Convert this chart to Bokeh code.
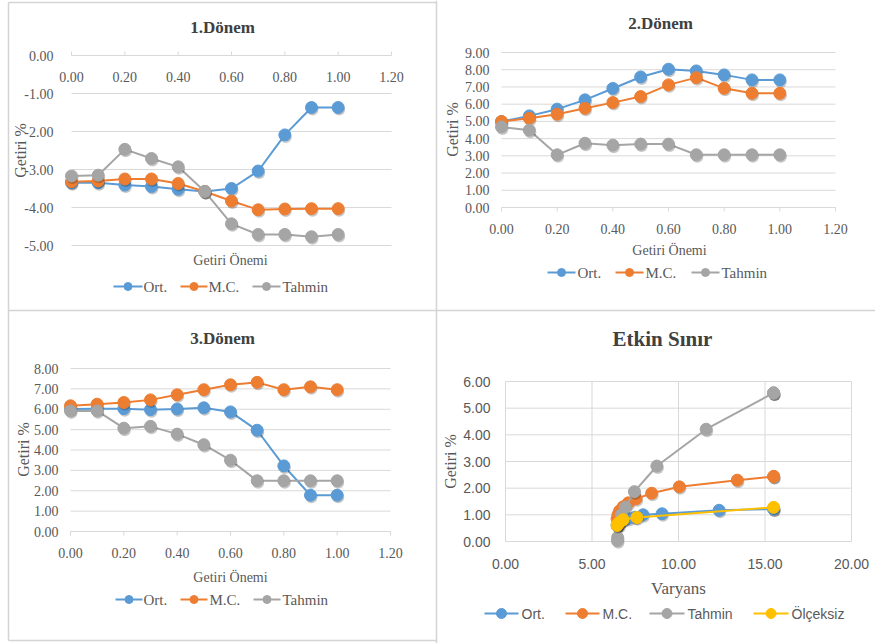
import math
from bokeh.plotting import figure
from bokeh.models import Range1d
from bokeh.core.properties import value
from bokeh.embed import file_html
from bokeh.resources import INLINE

# ---------------- data ----------------
getiri_onemi = [0.0, 0.1, 0.2, 0.3, 0.4, 0.5, 0.6, 0.7, 0.8, 0.9, 1.0]
x_ticks = [0.0, 0.2, 0.4, 0.6, 0.8, 1.0, 1.2]

d1_ort = [-3.35, -3.35, -3.41, -3.45, -3.52, -3.58, -3.50, -3.04, -2.09, -1.37, -1.37]
d1_mc = [-3.32, -3.30, -3.25, -3.25, -3.37, -3.58, -3.83, -4.06, -4.04, -4.03, -4.03]
d1_tahmin = [-3.17, -3.15, -2.47, -2.71, -2.93, -3.58, -4.43, -4.71, -4.71, -4.77, -4.71]
d1_yticks = [0.0, -1.0, -2.0, -3.0, -4.0, -5.0]

d2_ort = [4.99, 5.32, 5.71, 6.25, 6.91, 7.58, 8.03, 7.93, 7.70, 7.41, 7.41]
d2_mc = [4.99, 5.18, 5.42, 5.76, 6.09, 6.44, 7.12, 7.54, 6.92, 6.63, 6.63]
d2_tahmin = [4.68, 4.49, 3.06, 3.73, 3.62, 3.68, 3.68, 3.06, 3.06, 3.06, 3.06]
d2_yticks = [0, 1, 2, 3, 4, 5, 6, 7, 8, 9]

d3_ort = [6.01, 6.03, 6.03, 5.98, 6.01, 6.07, 5.87, 4.97, 3.22, 1.78, 1.78]
d3_mc = [6.17, 6.25, 6.33, 6.46, 6.71, 6.96, 7.20, 7.32, 6.96, 7.10, 6.96]
d3_tahmin = [5.92, 5.92, 5.07, 5.16, 4.78, 4.26, 3.50, 2.49, 2.49, 2.49, 2.49]
d3_yticks = [0, 1, 2, 3, 4, 5, 6, 7, 8]

ek_ort_var = [6.45, 6.47, 6.55, 6.75, 7.10, 7.50, 7.95, 9.05, 12.35, 15.50, 15.50]
ek_ort_ret = [0.60, 0.62, 0.70, 0.80, 0.86, 0.91, 1.00, 1.04, 1.17, 1.22, 1.22]
ek_mc_var = [6.45, 6.50, 6.60, 6.80, 7.10, 7.55, 8.45, 10.05, 13.40, 15.50, 15.50]
ek_mc_ret = [0.85, 1.00, 1.15, 1.30, 1.45, 1.60, 1.81, 2.05, 2.30, 2.44, 2.44]
ek_tahmin_var = [6.47, 6.48, 6.55, 6.70, 6.93, 7.45, 8.75, 11.60, 15.50, 15.50, 15.50]
ek_tahmin_ret = [0.03, 0.15, 0.60, 1.00, 1.28, 1.87, 2.83, 4.21, 5.57, 5.57, 5.57]
ek_olc_var = [6.45, 6.46, 6.50, 6.60, 6.80, 7.60, 15.50]
ek_olc_ret = [0.60, 0.63, 0.66, 0.72, 0.82, 0.90, 1.28]
ek_xticks = [0, 5, 10, 15, 20]
ek_yticks = [0, 1, 2, 3, 4, 5, 6]

series_names = ["Ort.", "M.C.", "Tahmin", "Ölçeksiz"]
titles = ["1.Dönem", "2.Dönem", "3.Dönem", "Etkin Sınır"]
x_titles = ["Getiri Önemi", "Getiri Önemi", "Getiri Önemi", "Varyans"]
y_title = "Getiri %"

# ---------------- style / layout (page pixels) ----------------
W, H = 875, 643
SERIF = "Liberation Serif"
SANS = "Liberation Sans"
BLUE, ORANGE, GRAY, YELLOW = "#5B9BD5", "#ED7D31", "#A5A5A5", "#FFC000"
COLORS = [BLUE, ORANGE, GRAY, YELLOW]
TXT = "#595959"
TITLE_C = "#404040"
GRID = "#D9D9D9"
BORDER = "#D4D4D4"

# plot-area boxes: (left px, right px, top px, bottom px)
BOX = {1: (71, 391, 55, 245), 2: (501, 835, 52, 207),
       3: (70, 390, 368, 531), 4: (505, 851, 381, 541)}
TITLE_POS = {1: (222, 27), 2: (660, 23), 3: (222, 338), 4: (662, 338)}
XT_POS = {1: (230, 260), 2: (669, 250), 3: (230, 577), 4: (678, 588)}
YT_POS = {1: (20, 150), 2: (452, 129), 3: (23, 449), 4: (450, 461)}
YLAB_X = {1: 53, 2: 489, 3: 58, 4: 490}
XLAB_Y = {1: 76, 2: 228, 3: 552, 4: 563}
# legend rows: y, [(line x0, x1, text x), ...]
LEG = {1: (286, [(113, 142, 143), (180, 207, 208), (252, 280, 282)]),
       2: (272, [(547, 575, 577), (615, 643, 645), (691, 719, 721)]),
       3: (599, [(115, 142, 143), (180, 207, 209), (253, 280, 282)]),
       4: (613, [(484, 518, 521), (565, 599, 602), (649, 684, 687), (753, 788, 791)])}
SHADOW_PX = (1.0, 2.0)  # marker shadow offset (right, down) in pixels


def x_range_for(v0, v1, px0, px1):
    s = (px1 - px0) / (v1 - v0)
    start = v0 - px0 / s
    return Range1d(start, start + W / s)


def y_range_for(v_top, v_bot, py_top, py_bot):
    s = (py_bot - py_top) / (v_top - v_bot)
    return Range1d(v_bot - (H - py_bot) / s, v_top + py_top / s)


p = figure(output_backend="svg", toolbar_location=None, width=W, height=H,
           x_range=Range1d(0, W), y_range=Range1d(H, 0),
           x_axis_location=None, y_axis_location=None, min_border=0)
p.grid.visible = False
p.outline_line_color = None
p.background_fill_color = "white"
p.border_fill_color = "white"

# panel data ranges
lims = {1: ((0, 1.2), (0, -5)), 2: ((0, 1.2), (9, 0)),
        3: ((0, 1.2), (8, 0)), 4: ((0, 20), (6, 0))}
xr, yr = {}, {}
for k, ((xa, xb), (yt, yb)) in lims.items():
    l, r, t, b = BOX[k]
    xr[f"x{k}"] = x_range_for(xa, xb, l, r)
    yr[f"y{k}"] = y_range_for(yt, yb, t, b)
p.extra_x_ranges = xr
p.extra_y_ranges = yr

# chart borders
p.segment(x0=[8, 436, 8, 8, 8], x1=[436, 436, 875, 8, 436],
          y0=[2, 0, 310, 2, 640], y1=[2, H, 310, 640, 640],
          line_color=BORDER, line_width=1.5)


def txt(x, y, text, font, size, color, align="center", angle=0.0, style="normal",
        xn="default", yn="default"):
    p.text(x=x, y=y, text=text, text_font=value(font), text_font_size=size,
           text_color=color, text_align=align, text_baseline="middle",
           angle=angle, text_font_style=style, x_range_name=xn, y_range_name=yn)


def panel(k, xticks, yticks, series, font, tick_dir, vgrid=False, title_size="17px",
          xt_size="14px", leg_font=None, leg_size="15px", leg_marker=8, marker=12):
    xn, yn = f"x{k}", f"y{k}"
    (xa, xb), (yt, yb) = lims[k]
    l, r, t, b = BOX[k]
    ddx = SHADOW_PX[0] * (xb - xa) / (r - l)
    ddy = SHADOW_PX[1] * (yt - yb) / (b - t)
    # horizontal gridlines
    p.segment(x0=[xticks[0]] * len(yticks), x1=[xticks[-1]] * len(yticks),
              y0=yticks, y1=yticks, line_color=GRID, line_width=1,
              x_range_name=xn, y_range_name=yn)
    if vgrid:
        p.segment(x0=xticks, x1=xticks, y0=[yticks[0]] * len(xticks),
                  y1=[yticks[-1]] * len(xticks), line_color=GRID, line_width=1,
                  x_range_name=xn, y_range_name=yn)
    if tick_dir is not None:
        base = 0
        p.ray(x=xticks, y=[base] * len(xticks), length=4, length_units="screen",
              angle=tick_dir, line_color=GRID, line_width=1,
              x_range_name=xn, y_range_name=yn)
    # tick labels
    txt(xticks, [XLAB_Y[k]] * len(xticks), [f"{t:.2f}" for t in xticks], font, "14px",
        TXT, xn=xn)
    txt([YLAB_X[k]] * len(yticks), yticks, [f"{t:.2f}" for t in yticks], font, "14px",
        TXT, align="right", yn=yn)
    # titles
    tx, ty = TITLE_POS[k]
    txt([tx], [ty], [titles[k - 1]], SERIF, title_size, TITLE_C, style="bold")
    ax, ay = XT_POS[k]
    txt([ax], [ay], [x_titles[k - 1]], SERIF, xt_size, TXT)
    yx, yy = YT_POS[k]
    txt([yx], [yy], [y_title], SERIF, "16px", TXT, angle=math.pi / 2)
    # series (line, soft marker shadow, marker)
    for (xs, ys), c in zip(series, COLORS):
        p.line(xs, ys, line_color=c, line_width=2, x_range_name=xn, y_range_name=yn)
        p.scatter([v + ddx for v in xs], [v - ddy for v in ys], size=marker,
                  fill_color="black", fill_alpha=0.22, line_color=None,
                  x_range_name=xn, y_range_name=yn)
        p.scatter(xs, ys, size=marker, fill_color=c, line_color=c,
                  x_range_name=xn, y_range_name=yn)
    # legend
    ly, items = LEG[k]
    for (gx0, gx1, tx0), c, name in zip(items, COLORS, series_names):
        p.segment(x0=[gx0], x1=[gx1], y0=[ly], y1=[ly], line_color=c, line_width=2)
        p.scatter([(gx0 + gx1) / 2], [ly], size=leg_marker, fill_color=c, line_color=c)
        txt([tx0], [ly], [name], leg_font or font, leg_size, TXT, align="left")


panel(1, x_ticks, d1_yticks,
      [(getiri_onemi, d1_ort), (getiri_onemi, d1_mc), (getiri_onemi, d1_tahmin)],
      SERIF, math.pi / 2)
panel(2, x_ticks, d2_yticks,
      [(getiri_onemi, d2_ort), (getiri_onemi, d2_mc), (getiri_onemi, d2_tahmin)],
      SERIF, -math.pi / 2)
panel(3, x_ticks, d3_yticks,
      [(getiri_onemi, d3_ort), (getiri_onemi, d3_mc), (getiri_onemi, d3_tahmin)],
      SERIF, -math.pi / 2)
panel(4, ek_xticks, ek_yticks,
      [(ek_ort_var, ek_ort_ret), (ek_mc_var, ek_mc_ret),
       (ek_tahmin_var, ek_tahmin_ret), (ek_olc_var, ek_olc_ret)],
      SANS, None, vgrid=True, title_size="21px", xt_size="17px",
      leg_font=SANS, leg_size="14px", leg_marker=10)

open("out.html", "w").write(file_html(p, INLINE))
